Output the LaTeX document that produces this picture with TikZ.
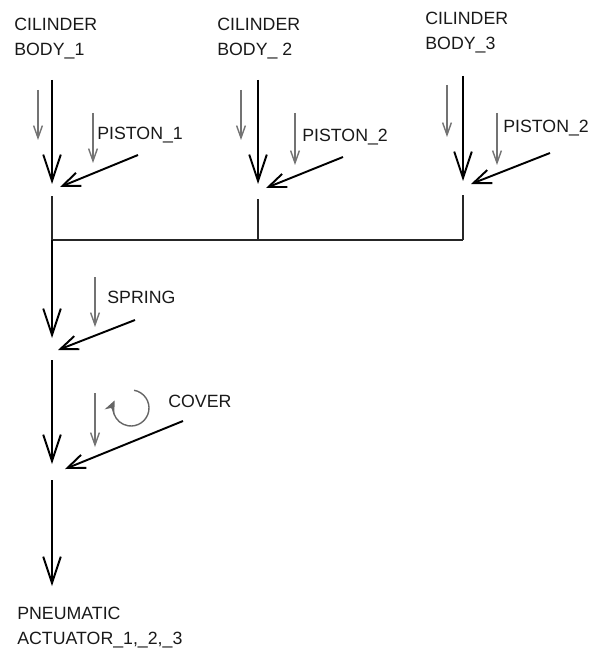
\documentclass[tikz,border=0pt]{standalone}
\usepackage{fontspec}
\setmainfont{Liberation Sans}
\usetikzlibrary{arrows.meta}
\begin{document}
\begin{tikzpicture}[x=0.02cm, y=-0.02cm,
  lbl/.style={inner sep=0pt, text=black!90, font=\fontsize{10.1}{14.2}\selectfont, align=left},
  flow/.style={line width=1.1pt, -{Straight Barb[length=15pt, width=10pt]}},
  feed/.style={line width=1.1pt, -{Straight Barb[length=10pt, width=8pt]}},
  hint/.style={line width=0.8pt, black!55, -{Straight Barb[length=7pt, width=5pt]}},
  joint/.style={line width=1.2pt, black!85}]
\useasboundingbox (0,0) rectangle (588,655);
\node[lbl, anchor=north west] (body1) at (14,18) {CILINDER\\BODY\_1};
\node[lbl, anchor=north west] (body2) at (217,18) {CILINDER\\BODY\_ 2};
\node[lbl, anchor=north west] (body3) at (425,12) {CILINDER\\BODY\_3};
\node[lbl, anchor=base west] (piston1) at (97,140) {PISTON\_1};
\node[lbl, anchor=base west] (piston2) at (302,142) {PISTON\_2};
\node[lbl, anchor=base west] (piston3) at (503,133) {PISTON\_2};
\node[lbl, anchor=base west] (spring) at (107,303) {SPRING};
\node[lbl, anchor=base west] (cover) at (168,407) {COVER};
\node[lbl, anchor=north west] (actuator) at (17,607) {PNEUMATIC\\ACTUATOR\_1,\_2,\_3};
\coordinate (c1top) at (52,80);
\coordinate (c1tip) at (52,184);
\coordinate (c1low) at (52,196);
\coordinate (j1) at (52,240);
\coordinate (c2top) at (258,80);
\coordinate (c2tip) at (258,184);
\coordinate (c2low) at (258,199);
\coordinate (j2) at (258,240);
\coordinate (c3top) at (463,76);
\coordinate (c3tip) at (463,181);
\coordinate (c3low) at (463,195);
\coordinate (j3) at (463,240);
\coordinate (p1from) at (138,155);
\coordinate (p1to) at (60,187);
\coordinate (p2from) at (343,157);
\coordinate (p2to) at (266,188);
\coordinate (p3from) at (550,153);
\coordinate (p3to) at (471,184);
\coordinate (stip) at (52,338);
\coordinate (sfrom) at (135,320);
\coordinate (sto) at (58,350);
\coordinate (ktop) at (52,360);
\coordinate (ktip) at (52,464);
\coordinate (kfrom) at (183,421);
\coordinate (kto) at (65,469);
\coordinate (atop) at (52,480);
\coordinate (atip) at (52,586);
\coordinate (turn) at (131,408);
\draw[flow] (c1top) -- (c1tip);
\draw[flow] (c2top) -- (c2tip);
\draw[flow] (c3top) -- (c3tip);
\draw[feed] (p1from) -- (p1to);
\draw[feed] (p2from) -- (p2to);
\draw[feed] (p3from) -- (p3to);
\draw[hint] (38,90) -- (38,140);
\draw[hint] (93,113) -- (93,163);
\draw[hint] (241,90) -- (241,140);
\draw[hint] (295,113) -- (295,165);
\draw[hint] (447,85) -- (447,137);
\draw[hint] (497,113) -- (497,165);
\draw[joint] (c1low) -- (j1);
\draw[joint] (c2low) -- (j2);
\draw[joint] (c3low) -- (j3);
\draw[joint] (j1) -- (j3);
\draw[flow] (j1) -- (stip);
\draw[feed] (sfrom) -- (sto);
\draw[hint] (95,277) -- (95,327);
\draw[flow] (ktop) -- (ktip);
\draw[feed] (kfrom) -- (kto);
\draw[hint] (95,393) -- (95,447);
\draw[line width=0.8pt, black!60, -{Stealth[length=7pt, width=6pt]}] (turn) ++(-80:18) arc[start angle=-80, end angle=205, radius=18];
\draw[flow] (atop) -- (atip);
\end{tikzpicture}
\end{document}
